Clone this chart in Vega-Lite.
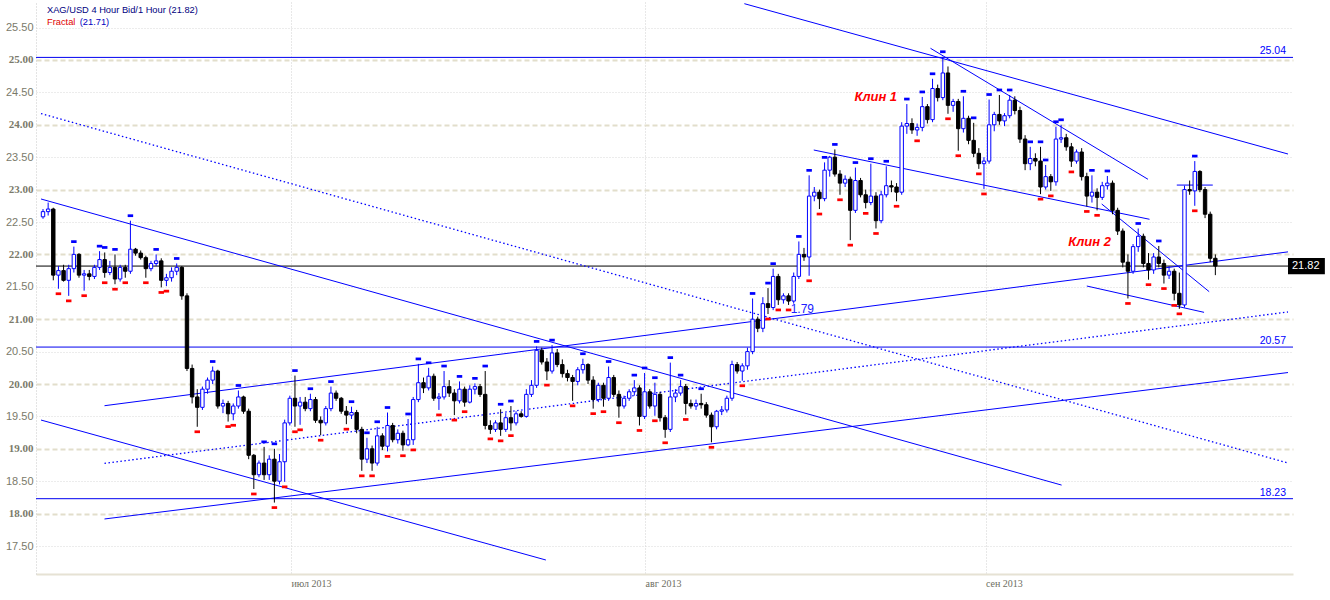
{
"$schema":"https://vega.github.io/schema/vega-lite/v6.json",
"width":1257,"height":572,
"autosize":{"type":"none"},
"padding":{"left":36,"top":2,"right":37,"bottom":26},
"background":"#FFFFFF",
"config":{"view":{"stroke":null},"font":"Liberation Sans"},
"datasets":{
"bars":[
{"i":0,"o":22.58,"h":22.70,"l":22.55,"c":22.66},
{"i":1,"o":22.66,"h":22.80,"l":22.60,"c":22.70},
{"i":2,"o":22.70,"h":22.72,"l":21.60,"c":21.68},
{"i":3,"o":21.68,"h":21.82,"l":21.47,"c":21.75,"d":1},
{"i":4,"o":21.75,"h":21.84,"l":21.58,"c":21.60},
{"i":5,"o":21.60,"h":21.84,"l":21.36,"c":21.78,"d":1},
{"i":6,"o":21.78,"h":22.12,"l":21.72,"c":22.00,"u":1},
{"i":7,"o":22.00,"h":22.02,"l":21.64,"c":21.68},
{"i":8,"o":21.68,"h":21.76,"l":21.44,"c":21.70,"d":1},
{"i":9,"o":21.70,"h":21.76,"l":21.60,"c":21.66},
{"i":10,"o":21.66,"h":21.84,"l":21.62,"c":21.80},
{"i":11,"o":21.80,"h":22.05,"l":21.76,"c":21.92,"u":1},
{"i":12,"o":21.92,"h":22.03,"l":21.64,"c":21.72,"u":1,"d":1},
{"i":13,"o":21.72,"h":21.90,"l":21.68,"c":21.80},
{"i":14,"o":21.80,"h":22.00,"l":21.54,"c":21.62,"u":1,"d":1},
{"i":15,"o":21.62,"h":21.84,"l":21.58,"c":21.80},
{"i":16,"o":21.80,"h":21.84,"l":21.64,"c":21.74,"d":1},
{"i":17,"o":21.74,"h":22.52,"l":21.70,"c":22.08,"u":1},
{"i":18,"o":22.08,"h":22.10,"l":21.98,"c":22.02},
{"i":19,"o":22.02,"h":22.06,"l":21.92,"c":21.95},
{"i":20,"o":21.95,"h":21.98,"l":21.64,"c":21.78,"d":1},
{"i":21,"o":21.78,"h":21.90,"l":21.74,"c":21.86},
{"i":22,"o":21.86,"h":22.00,"l":21.82,"c":21.90,"u":1},
{"i":23,"o":21.90,"h":21.94,"l":21.49,"c":21.60,"d":1},
{"i":24,"o":21.60,"h":21.70,"l":21.51,"c":21.64,"d":1},
{"i":25,"o":21.64,"h":21.80,"l":21.58,"c":21.74},
{"i":26,"o":21.74,"h":21.86,"l":21.68,"c":21.80,"u":1},
{"i":27,"o":21.80,"h":21.82,"l":21.30,"c":21.36},
{"i":28,"o":21.36,"h":21.40,"l":20.20,"c":20.24},
{"i":29,"o":20.24,"h":20.30,"l":19.70,"c":19.80},
{"i":30,"o":19.80,"h":19.92,"l":19.34,"c":19.64,"d":1},
{"i":31,"o":19.64,"h":19.96,"l":19.60,"c":19.92},
{"i":32,"o":19.92,"h":20.10,"l":19.85,"c":20.06},
{"i":33,"o":20.06,"h":20.27,"l":20.00,"c":20.20,"u":1},
{"i":34,"o":20.20,"h":20.22,"l":19.62,"c":19.66},
{"i":35,"o":19.66,"h":19.76,"l":19.55,"c":19.70},
{"i":36,"o":19.70,"h":19.74,"l":19.42,"c":19.54,"d":1},
{"i":37,"o":19.54,"h":19.70,"l":19.44,"c":19.66,"d":1},
{"i":38,"o":19.66,"h":19.90,"l":19.62,"c":19.80,"u":1},
{"i":39,"o":19.80,"h":19.82,"l":19.54,"c":19.58},
{"i":40,"o":19.58,"h":19.62,"l":18.84,"c":18.90},
{"i":41,"o":18.90,"h":18.92,"l":18.38,"c":18.60,"d":1},
{"i":42,"o":18.60,"h":18.82,"l":18.56,"c":18.78},
{"i":43,"o":18.78,"h":19.03,"l":18.52,"c":18.60,"u":1},
{"i":44,"o":18.60,"h":18.90,"l":18.52,"c":18.84},
{"i":45,"o":18.84,"h":19.00,"l":18.17,"c":18.50,"u":1,"d":1},
{"i":46,"o":18.50,"h":18.92,"l":18.45,"c":18.80},
{"i":47,"o":18.80,"h":19.45,"l":18.49,"c":19.40,"d":1},
{"i":48,"o":19.40,"h":19.82,"l":19.36,"c":19.78},
{"i":49,"o":19.78,"h":20.13,"l":19.34,"c":19.66,"u":1,"d":1},
{"i":50,"o":19.66,"h":19.80,"l":19.37,"c":19.72,"d":1},
{"i":51,"o":19.72,"h":19.80,"l":19.58,"c":19.62},
{"i":52,"o":19.62,"h":19.85,"l":19.58,"c":19.76,"u":1},
{"i":53,"o":19.76,"h":19.80,"l":19.40,"c":19.44},
{"i":54,"o":19.44,"h":19.50,"l":19.21,"c":19.40,"d":1},
{"i":55,"o":19.40,"h":19.66,"l":19.36,"c":19.62},
{"i":56,"o":19.62,"h":19.96,"l":19.58,"c":19.86,"u":1},
{"i":57,"o":19.86,"h":19.90,"l":19.74,"c":19.78},
{"i":58,"o":19.78,"h":19.80,"l":19.54,"c":19.58},
{"i":59,"o":19.58,"h":19.66,"l":19.38,"c":19.52,"d":1},
{"i":60,"o":19.52,"h":19.65,"l":19.46,"c":19.56,"u":1},
{"i":61,"o":19.56,"h":19.60,"l":19.24,"c":19.30},
{"i":62,"o":19.30,"h":19.34,"l":18.66,"c":18.84,"d":1},
{"i":63,"o":18.84,"h":19.17,"l":18.78,"c":19.00,"u":1},
{"i":64,"o":19.00,"h":19.05,"l":18.66,"c":18.78,"d":1},
{"i":65,"o":18.78,"h":19.34,"l":18.74,"c":19.20,"u":1},
{"i":66,"o":19.20,"h":19.24,"l":18.98,"c":19.04},
{"i":67,"o":19.04,"h":19.56,"l":18.96,"c":19.36,"u":1,"d":1},
{"i":68,"o":19.36,"h":19.40,"l":19.10,"c":19.14},
{"i":69,"o":19.14,"h":19.30,"l":19.08,"c":19.24},
{"i":70,"o":19.24,"h":19.28,"l":18.97,"c":19.06,"d":1},
{"i":71,"o":19.06,"h":19.46,"l":19.04,"c":19.14,"u":1},
{"i":72,"o":19.14,"h":19.80,"l":19.06,"c":19.76,"d":1},
{"i":73,"o":19.76,"h":20.31,"l":19.72,"c":20.02,"u":1},
{"i":74,"o":20.02,"h":20.10,"l":19.86,"c":19.94},
{"i":75,"o":19.94,"h":20.25,"l":19.90,"c":20.12,"u":1},
{"i":76,"o":20.12,"h":20.16,"l":19.74,"c":19.78},
{"i":77,"o":19.78,"h":19.86,"l":19.60,"c":19.80,"d":1},
{"i":78,"o":19.80,"h":20.20,"l":19.76,"c":19.96,"u":1},
{"i":79,"o":19.96,"h":20.06,"l":19.80,"c":19.86},
{"i":80,"o":19.86,"h":19.92,"l":19.52,"c":19.74,"d":1},
{"i":81,"o":19.74,"h":20.04,"l":19.70,"c":19.92,"u":1},
{"i":82,"o":19.92,"h":19.96,"l":19.65,"c":19.72,"d":1},
{"i":83,"o":19.72,"h":19.98,"l":19.70,"c":19.92},
{"i":84,"o":19.92,"h":20.01,"l":19.84,"c":19.96,"u":1},
{"i":85,"o":19.96,"h":20.00,"l":19.80,"c":19.84},
{"i":86,"o":19.84,"h":20.20,"l":19.30,"c":19.36,"u":1},
{"i":87,"o":19.36,"h":19.44,"l":19.23,"c":19.30,"d":1},
{"i":88,"o":19.30,"h":19.44,"l":19.26,"c":19.40},
{"i":89,"o":19.40,"h":19.61,"l":19.20,"c":19.30,"u":1,"d":1},
{"i":90,"o":19.30,"h":19.55,"l":19.26,"c":19.48},
{"i":91,"o":19.48,"h":19.66,"l":19.28,"c":19.40,"u":1,"d":1},
{"i":92,"o":19.40,"h":19.58,"l":19.36,"c":19.54},
{"i":93,"o":19.54,"h":19.58,"l":19.48,"c":19.50},
{"i":94,"o":19.50,"h":19.92,"l":19.48,"c":19.84},
{"i":95,"o":19.84,"h":20.06,"l":19.80,"c":19.98},
{"i":96,"o":19.98,"h":20.58,"l":19.94,"c":20.52,"u":1},
{"i":97,"o":20.52,"h":20.56,"l":20.30,"c":20.34},
{"i":98,"o":20.34,"h":20.40,"l":20.06,"c":20.20,"d":1},
{"i":99,"o":20.20,"h":20.60,"l":20.16,"c":20.48,"u":1},
{"i":100,"o":20.48,"h":20.54,"l":20.26,"c":20.30},
{"i":101,"o":20.30,"h":20.38,"l":20.10,"c":20.16},
{"i":102,"o":20.16,"h":20.22,"l":20.04,"c":20.10},
{"i":103,"o":20.10,"h":20.14,"l":19.74,"c":20.04,"d":1},
{"i":104,"o":20.04,"h":20.26,"l":19.98,"c":20.22},
{"i":105,"o":20.22,"h":20.39,"l":20.16,"c":20.30,"u":1},
{"i":106,"o":20.30,"h":20.32,"l":20.00,"c":20.06},
{"i":107,"o":20.06,"h":20.12,"l":19.62,"c":19.76,"d":1},
{"i":108,"o":19.76,"h":20.02,"l":19.72,"c":19.98},
{"i":109,"o":19.98,"h":20.02,"l":19.65,"c":19.78,"d":1},
{"i":110,"o":19.78,"h":20.27,"l":19.74,"c":20.10,"u":1},
{"i":111,"o":20.10,"h":20.14,"l":19.80,"c":19.84},
{"i":112,"o":19.84,"h":19.90,"l":19.48,"c":19.66,"d":1},
{"i":113,"o":19.66,"h":19.82,"l":19.62,"c":19.78},
{"i":114,"o":19.78,"h":19.92,"l":19.74,"c":19.88},
{"i":115,"o":19.88,"h":20.06,"l":19.82,"c":19.94,"u":1},
{"i":116,"o":19.94,"h":19.98,"l":19.36,"c":19.50,"d":1},
{"i":117,"o":19.50,"h":20.17,"l":19.46,"c":19.88,"u":1},
{"i":118,"o":19.88,"h":19.92,"l":19.62,"c":19.66},
{"i":119,"o":19.66,"h":20.02,"l":19.51,"c":19.84,"u":1,"d":1},
{"i":120,"o":19.84,"h":19.88,"l":19.42,"c":19.48},
{"i":121,"o":19.48,"h":19.52,"l":19.17,"c":19.30,"d":1},
{"i":122,"o":19.30,"h":20.33,"l":19.26,"c":19.80,"u":1},
{"i":123,"o":19.80,"h":19.92,"l":19.72,"c":19.86},
{"i":124,"o":19.86,"h":20.06,"l":19.82,"c":19.96,"u":1},
{"i":125,"o":19.96,"h":20.00,"l":19.53,"c":19.70,"d":1},
{"i":126,"o":19.70,"h":19.76,"l":19.62,"c":19.66},
{"i":127,"o":19.66,"h":19.76,"l":19.60,"c":19.70},
{"i":128,"o":19.70,"h":19.85,"l":19.62,"c":19.68,"u":1},
{"i":129,"o":19.68,"h":19.72,"l":19.48,"c":19.52},
{"i":130,"o":19.52,"h":19.56,"l":19.10,"c":19.34,"d":1},
{"i":131,"o":19.34,"h":19.60,"l":19.30,"c":19.58},
{"i":132,"o":19.58,"h":19.66,"l":19.52,"c":19.60},
{"i":133,"o":19.60,"h":19.82,"l":19.56,"c":19.78},
{"i":134,"o":19.78,"h":20.36,"l":19.74,"c":20.30},
{"i":135,"o":20.30,"h":20.34,"l":20.16,"c":20.20},
{"i":136,"o":20.20,"h":20.32,"l":20.05,"c":20.28,"d":1},
{"i":137,"o":20.28,"h":20.56,"l":20.22,"c":20.50},
{"i":138,"o":20.50,"h":21.32,"l":20.46,"c":21.00,"u":1},
{"i":139,"o":21.00,"h":21.04,"l":20.80,"c":20.86},
{"i":140,"o":20.86,"h":21.34,"l":20.80,"c":21.24},
{"i":141,"o":21.24,"h":21.48,"l":21.08,"c":21.18,"u":1,"d":1},
{"i":142,"o":21.18,"h":21.78,"l":21.14,"c":21.66,"u":1},
{"i":143,"o":21.66,"h":21.70,"l":21.22,"c":21.30,"d":1},
{"i":144,"o":21.30,"h":21.40,"l":21.24,"c":21.36},
{"i":145,"o":21.36,"h":21.40,"l":21.22,"c":21.28,"d":1},
{"i":146,"o":21.28,"h":21.72,"l":21.24,"c":21.66},
{"i":147,"o":21.66,"h":22.20,"l":21.62,"c":22.00,"u":1},
{"i":148,"o":22.00,"h":22.10,"l":21.90,"c":21.96},
{"i":149,"o":21.96,"h":23.22,"l":21.67,"c":22.90,"u":1,"d":1},
{"i":150,"o":22.90,"h":23.04,"l":22.82,"c":22.96},
{"i":151,"o":22.96,"h":23.00,"l":22.70,"c":22.86,"d":1},
{"i":152,"o":22.86,"h":23.42,"l":22.82,"c":23.30,"u":1},
{"i":153,"o":23.30,"h":23.52,"l":23.20,"c":23.50},
{"i":154,"o":23.50,"h":23.62,"l":23.20,"c":23.24,"u":1},
{"i":155,"o":23.24,"h":23.30,"l":22.92,"c":23.10,"d":1},
{"i":156,"o":23.10,"h":23.22,"l":23.04,"c":23.16},
{"i":157,"o":23.16,"h":23.20,"l":22.22,"c":22.68,"d":1},
{"i":158,"o":22.68,"h":23.34,"l":22.64,"c":23.14,"u":1},
{"i":159,"o":23.14,"h":23.18,"l":22.88,"c":22.92},
{"i":160,"o":22.92,"h":23.00,"l":22.71,"c":22.80,"d":1},
{"i":161,"o":22.80,"h":23.40,"l":22.76,"c":22.90,"u":1},
{"i":162,"o":22.90,"h":22.96,"l":22.40,"c":22.52,"d":1},
{"i":163,"o":22.52,"h":22.98,"l":22.48,"c":22.92},
{"i":164,"o":22.92,"h":23.36,"l":22.88,"c":23.06,"u":1},
{"i":165,"o":23.06,"h":23.14,"l":22.96,"c":23.04},
{"i":166,"o":23.04,"h":23.10,"l":22.82,"c":22.96,"d":1},
{"i":167,"o":22.96,"h":24.04,"l":22.92,"c":23.98},
{"i":168,"o":23.98,"h":24.32,"l":23.86,"c":24.02,"u":1},
{"i":169,"o":24.02,"h":24.10,"l":23.86,"c":23.92},
{"i":170,"o":23.92,"h":24.02,"l":23.83,"c":23.96,"d":1},
{"i":171,"o":23.96,"h":24.43,"l":23.90,"c":24.28,"u":1},
{"i":172,"o":24.28,"h":24.32,"l":24.02,"c":24.08},
{"i":173,"o":24.08,"h":24.71,"l":24.04,"c":24.56,"u":1},
{"i":174,"o":24.56,"h":24.62,"l":24.36,"c":24.42},
{"i":175,"o":24.42,"h":25.05,"l":24.38,"c":24.80,"u":1},
{"i":176,"o":24.80,"h":24.90,"l":24.17,"c":24.30,"d":1},
{"i":177,"o":24.30,"h":24.40,"l":24.20,"c":24.36},
{"i":178,"o":24.36,"h":24.40,"l":23.60,"c":23.94,"d":1},
{"i":179,"o":23.94,"h":24.44,"l":23.88,"c":24.10,"u":1},
{"i":180,"o":24.10,"h":24.14,"l":23.70,"c":23.76},
{"i":181,"o":23.76,"h":24.03,"l":23.50,"c":23.56,"u":1},
{"i":182,"o":23.56,"h":23.64,"l":23.32,"c":23.40,"d":1},
{"i":183,"o":23.40,"h":23.50,"l":23.01,"c":23.44,"d":1},
{"i":184,"o":23.44,"h":24.39,"l":23.40,"c":24.00,"u":1},
{"i":185,"o":24.00,"h":24.20,"l":23.90,"c":24.16},
{"i":186,"o":24.16,"h":24.46,"l":24.00,"c":24.06,"u":1},
{"i":187,"o":24.06,"h":24.18,"l":23.98,"c":24.14},
{"i":188,"o":24.14,"h":24.46,"l":24.10,"c":24.38,"u":1},
{"i":189,"o":24.38,"h":24.44,"l":24.16,"c":24.22},
{"i":190,"o":24.22,"h":24.28,"l":23.72,"c":23.78},
{"i":191,"o":23.78,"h":23.84,"l":23.30,"c":23.40},
{"i":192,"o":23.40,"h":23.66,"l":23.30,"c":23.48,"u":1},
{"i":193,"o":23.48,"h":23.56,"l":23.36,"c":23.44},
{"i":194,"o":23.44,"h":23.66,"l":22.93,"c":23.04,"u":1,"d":1},
{"i":195,"o":23.04,"h":23.38,"l":23.00,"c":23.20,"u":1},
{"i":196,"o":23.20,"h":23.24,"l":22.98,"c":23.12,"d":1},
{"i":197,"o":23.12,"h":23.97,"l":23.06,"c":23.78,"u":1},
{"i":198,"o":23.78,"h":24.00,"l":23.72,"c":23.80,"u":1},
{"i":199,"o":23.80,"h":23.86,"l":23.60,"c":23.66},
{"i":200,"o":23.66,"h":23.72,"l":23.35,"c":23.44,"d":1},
{"i":201,"o":23.44,"h":23.62,"l":23.40,"c":23.58},
{"i":202,"o":23.58,"h":23.64,"l":23.14,"c":23.20},
{"i":203,"o":23.20,"h":23.26,"l":22.74,"c":22.90,"d":1},
{"i":204,"o":22.90,"h":23.22,"l":22.80,"c":22.96,"u":1},
{"i":205,"o":22.96,"h":23.02,"l":22.68,"c":22.88,"d":1},
{"i":206,"o":22.88,"h":23.12,"l":22.84,"c":23.06},
{"i":207,"o":23.06,"h":23.21,"l":23.00,"c":23.10,"u":1},
{"i":208,"o":23.10,"h":23.14,"l":22.62,"c":22.68},
{"i":209,"o":22.68,"h":22.72,"l":22.30,"c":22.36},
{"i":210,"o":22.36,"h":22.40,"l":21.80,"c":21.88},
{"i":211,"o":21.88,"h":22.00,"l":21.32,"c":21.74,"d":1},
{"i":212,"o":21.74,"h":22.16,"l":21.70,"c":22.12},
{"i":213,"o":22.12,"h":22.40,"l":22.04,"c":22.28,"u":1},
{"i":214,"o":22.28,"h":22.32,"l":21.80,"c":21.86},
{"i":215,"o":21.86,"h":22.02,"l":21.61,"c":21.76,"d":1},
{"i":216,"o":21.76,"h":22.02,"l":21.70,"c":21.96},
{"i":217,"o":21.96,"h":22.13,"l":21.80,"c":21.86,"u":1},
{"i":218,"o":21.86,"h":21.92,"l":21.55,"c":21.68,"d":1},
{"i":219,"o":21.68,"h":21.82,"l":21.62,"c":21.74},
{"i":220,"o":21.74,"h":21.78,"l":21.29,"c":21.40,"d":1},
{"i":221,"o":21.40,"h":21.72,"l":21.16,"c":21.22,"d":1},
{"i":222,"o":21.22,"h":23.06,"l":21.18,"c":23.00},
{"i":223,"o":23.00,"h":23.14,"l":22.92,"c":22.98},
{"i":224,"o":22.98,"h":23.44,"l":22.75,"c":23.28,"u":1,"d":1},
{"i":225,"o":23.28,"h":23.30,"l":22.96,"c":23.00},
{"i":226,"o":23.00,"h":23.04,"l":22.56,"c":22.62},
{"i":227,"o":22.62,"h":22.66,"l":21.88,"c":21.94},
{"i":228,"o":21.94,"h":22.00,"l":21.68,"c":21.82}
],
"lines":[
{"g":"a","i":-0.39,"p":22.855},{"g":"a","i":198.1,"p":18.44},
{"g":"b","i":-0.39,"p":19.444},{"g":"b","i":97.8,"p":17.284},
{"g":"c","i":11.96,"p":17.917},{"g":"c","i":242.13,"p":20.177},
{"g":"d","i":11.96,"p":19.665},{"g":"d","i":242.13,"p":22.039},
{"g":"g","i":136.4,"p":25.869},{"g":"g","i":242.13,"p":23.549},
{"g":"h","i":172.6,"p":25.181},{"g":"h","i":214.9,"p":23.159},
{"g":"k1","i":149.9,"p":23.611},{"g":"k1","i":215.2,"p":22.542},
{"g":"k2u","i":205.9,"p":22.778},{"g":"k2u","i":226.8,"p":21.425},
{"g":"k2l","i":203.0,"p":21.512},{"g":"k2l","i":225.8,"p":21.106},
{"g":"hz","i":220.5,"p":23.07},{"g":"hz","i":227.5,"p":23.07}
],
"midlines":[
{"g":"e","i":-0.39,"p":24.173},{"g":"e","i":242.13,"p":18.781},
{"g":"f","i":11.96,"p":18.776},{"g":"f","i":242.13,"p":21.111}
],
"levels":[{"p":25.04},{"p":20.57},{"p":18.23}]
},
"resolve":{"axis":{"y":"independent"}},
"layer":[
{"data":{"name":"levels"},"mark":{"type":"rule","color":"#0000F0","strokeWidth":1},
 "encoding":{"y":{"field":"p","type":"quantitative","scale":{"domain":[17.068,25.895],"nice":false,"zero":false},
  "axis":{"orient":"left","values":[17.5,18,18.5,19,19.5,20,20.5,21,21.5,22,22.5,23,23.5,24,24.5,25,25.5],"format":".2f","title":null,
   "grid":true,
   "gridColor":{"condition":{"test":"datum.value % 1 === 0","value":"#E2DECB"},"value":"#D9D9D9"},
   "gridDash":{"condition":{"test":"datum.value % 1 === 0","value":[5,3]},"value":[1,2]},
   "gridWidth":{"condition":{"test":"datum.value % 1 === 0","value":2},"value":1},
   "ticks":false,"labelPadding":3,"labelFontSize":11,"labelColor":"#7A7A6A",
   "labelFont":{"condition":{"test":"datum.value % 1 === 0","value":"Liberation Serif"},"value":"Liberation Sans"},
   "labelFontWeight":{"condition":{"test":"datum.value % 1 === 0","value":"bold"},"value":"normal"},
   "domainColor":"#C8C8C8","domainDash":[1,2]}}}},
{"data":{"values":[{}]},"mark":{"type":"rule","color":"#000000","strokeWidth":1},
 "encoding":{"y":{"datum":21.82,"type":"quantitative","axis":null}}},
{"data":{"name":"lines"},"mark":{"type":"line","color":"#0000FF","strokeWidth":1},
 "encoding":{"x":{"field":"i","type":"quantitative","scale":{"domain":[-0.39,242.13],"nice":false,"zero":false},
   "axis":{"values":[48.23,117.1,183.3],"labelExpr":"datum.value < 80 ? 'июл 2013' : (datum.value < 150 ? 'авг 2013' : 'сен 2013')","title":null,
    "grid":true,"gridColor":"#D0D0D0","gridDash":[1,2],"ticks":false,"labelAlign":"left","labelBaseline":"top","labelPadding":4,
    "labelFont":"Liberation Sans Narrow","labelFontSize":10,"labelColor":"#6E6E62","domainColor":"#E6E2D4","domainWidth":2}},
  "y":{"field":"p","type":"quantitative","axis":null},"detail":{"field":"g"}}},
{"data":{"name":"midlines"},"mark":{"type":"line","color":"#0000FF","strokeWidth":1.3,"strokeDash":[1.5,2.5]},
 "encoding":{"x":{"field":"i","type":"quantitative"},"y":{"field":"p","type":"quantitative","axis":null},"detail":{"field":"g"}}},
{"data":{"name":"bars"},"encoding":{"x":{"field":"i","type":"quantitative"}},
 "layer":[
  {"mark":{"type":"rule","strokeWidth":1},
   "encoding":{"y":{"field":"l","type":"quantitative",
     "axis":{"orient":"right","values":[17.5,18,18.5,19,19.5,20,20.5,21,21.5,22,22.5,23,23.5,24,24.5,25,25.5],"format":".2f","title":null,"grid":false,
      "ticks":false,"labelPadding":4,"labelFontSize":11,"labelColor":"#7A7A6A",
      "labelFont":{"condition":{"test":"datum.value % 1 === 0","value":"Liberation Serif"},"value":"Liberation Sans"},
      "labelFontWeight":{"condition":{"test":"datum.value % 1 === 0","value":"bold"},"value":"normal"},
      "domainColor":"#C8C8C8","domainDash":[1,2]}},
    "y2":{"field":"h"},
    "color":{"condition":{"test":"datum.c >= datum.o","value":"#0000FF"},"value":"#000000"}}},
  {"mark":{"type":"bar","width":3.4,"strokeWidth":1},
   "encoding":{"y":{"field":"o","type":"quantitative","axis":null},"y2":{"field":"c"},
    "fill":{"condition":{"test":"datum.c >= datum.o","value":"#FFFFFF"},"value":"#000000"},
    "stroke":{"condition":{"test":"datum.c >= datum.o","value":"#0000FF"},"value":"#000000"}}},
  {"transform":[{"filter":"datum.u === 1"}],
   "mark":{"type":"point","shape":"M-1,-0.5H1V0.5H-1Z","filled":true,"size":30,"yOffset":-5,"color":"#0000FF","opacity":1,"strokeWidth":0},
   "encoding":{"y":{"field":"h","type":"quantitative","axis":null}}},
  {"transform":[{"filter":"datum.d === 1"}],
   "mark":{"type":"point","shape":"M-1,-0.5H1V0.5H-1Z","filled":true,"size":30,"yOffset":5,"color":"#FF0000","opacity":1,"strokeWidth":0},
   "encoding":{"y":{"field":"l","type":"quantitative","axis":null}}}
 ]},
{"data":{"name":"levels"},"mark":{"type":"text","align":"right","baseline":"bottom","dx":-2,"dy":-1,"fontSize":10.5,"color":"#0000FF"},
 "encoding":{"x":{"datum":242.13,"type":"quantitative"},"y":{"field":"p","type":"quantitative","axis":null},"text":{"field":"p","type":"quantitative","format":".2f"}}},
{"data":{"values":[{}]},"mark":{"type":"rect","color":"#000000"},
 "encoding":{"x":{"datum":242.13,"type":"quantitative"},"x2":{"datum":249.3},"y":{"datum":21.945,"type":"quantitative","axis":null},"y2":{"datum":21.695}}},
{"data":{"values":[{}]},"mark":{"type":"text","text":"21.82","align":"left","baseline":"middle","dx":4,"fontSize":11,"color":"#FFFFFF"},
 "encoding":{"x":{"datum":242.13,"type":"quantitative"},"y":{"datum":21.82,"type":"quantitative","axis":null}}},
{"data":{"values":[{}]},"mark":{"type":"text","text":"1.79","align":"left","baseline":"middle","fontSize":12,"color":"#2020FF"},
 "encoding":{"x":{"datum":145.4,"type":"quantitative"},"y":{"datum":21.157,"type":"quantitative","axis":null}}},
{"data":{"values":[{}]},"mark":{"type":"text","text":"Клин 1","align":"left","baseline":"middle","fontSize":13,"fontStyle":"italic","fontWeight":"bold","color":"#FF0000"},
 "encoding":{"x":{"datum":157.8,"type":"quantitative"},"y":{"datum":24.43,"type":"quantitative","axis":null}}},
{"data":{"values":[{}]},"mark":{"type":"text","text":"Клин 2","align":"left","baseline":"middle","fontSize":13,"fontStyle":"italic","fontWeight":"bold","color":"#FF0000"},
 "encoding":{"x":{"datum":199.4,"type":"quantitative"},"y":{"datum":22.184,"type":"quantitative","axis":null}}},
{"data":{"values":[{}]},"mark":{"type":"text","text":"XAG/USD 4 Hour Bid/1 Hour (21.82)","align":"left","baseline":"middle","fontSize":9.3,"color":"#000080"},
 "encoding":{"x":{"datum":0.77,"type":"quantitative"},"y":{"datum":25.772,"type":"quantitative","axis":null}}},
{"data":{"values":[{}]},"mark":{"type":"text","text":"Fractal","align":"left","baseline":"middle","fontSize":9.3,"color":"#E00000"},
 "encoding":{"x":{"datum":0.77,"type":"quantitative"},"y":{"datum":25.586,"type":"quantitative","axis":null}}},
{"data":{"values":[{}]},"mark":{"type":"text","text":"(21.71)","align":"left","baseline":"middle","fontSize":9.3,"color":"#0000C0"},
 "encoding":{"x":{"datum":7.14,"type":"quantitative"},"y":{"datum":25.586,"type":"quantitative","axis":null}}}
]
}
